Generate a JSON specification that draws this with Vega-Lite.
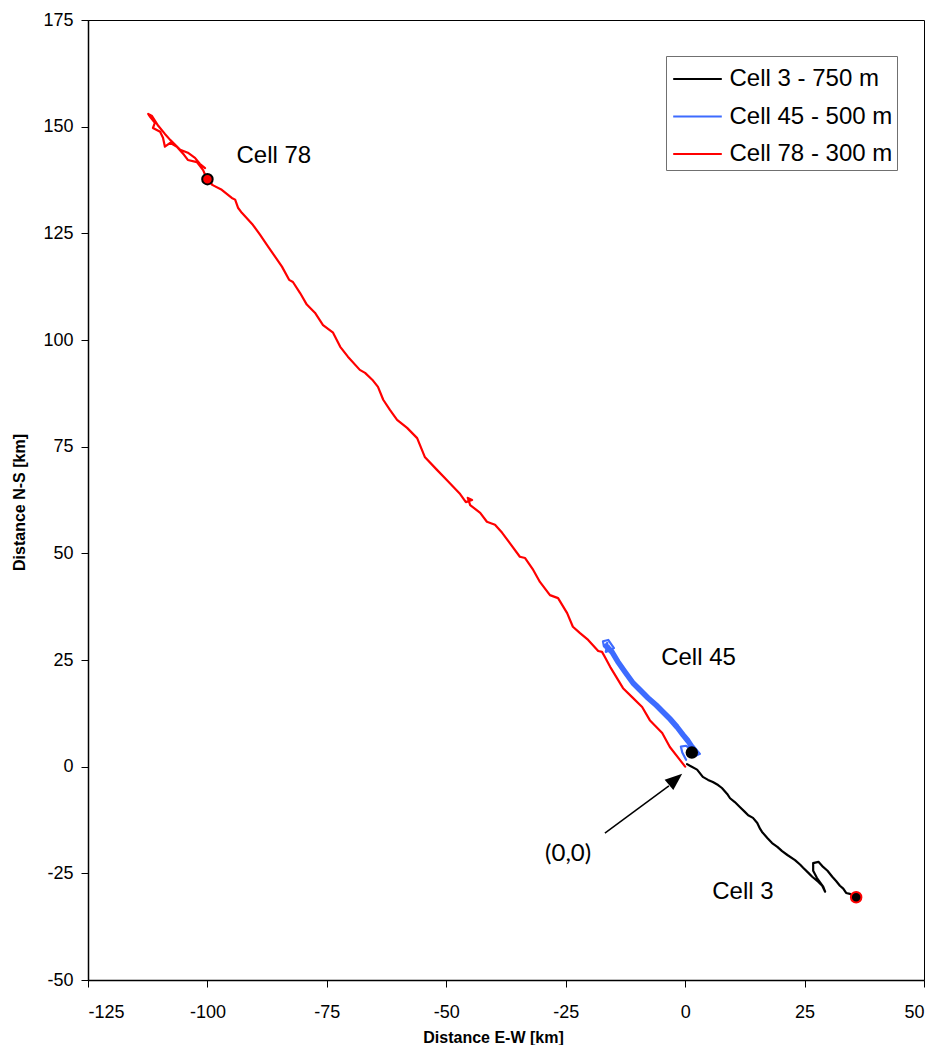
{
  "$schema": "https://vega.github.io/schema/vega-lite/v6.json",
  "width": 836,
  "height": 960,
  "autosize": "none",
  "padding": {"left": 88, "top": 20, "right": 13, "bottom": 65},
  "background": "white",
  "config": {
    "font": "Liberation Sans",
    "view": {"stroke": "#000000", "strokeWidth": 1},
    "axis": {
      "grid": false,
      "domainColor": "#000000",
      "domainWidth": 1.5,
      "tickColor": "#000000",
      "tickWidth": 1,
      "tickSize": 7,
      "labelColor": "#000000",
      "labelFont": "Liberation Sans",
      "labelFontSize": 18,
      "labelExpr": "replace(datum.label, '\u2212', '-')",
      "titleColor": "#000000",
      "titleFont": "Liberation Sans",
      "titleFontSize": 16,
      "titleFontWeight": "bold"
    }
  },
  "datasets": {
    "tracks": [
      {"series": "Cell 3 - 750 m", "i": 1, "x": 0.4, "y": 0.6},
      {"series": "Cell 3 - 750 m", "i": 2, "x": 1.0, "y": 0.2},
      {"series": "Cell 3 - 750 m", "i": 3, "x": 2.5, "y": -0.7},
      {"series": "Cell 3 - 750 m", "i": 4, "x": 3.7, "y": -2.4},
      {"series": "Cell 3 - 750 m", "i": 5, "x": 4.8, "y": -3.1},
      {"series": "Cell 3 - 750 m", "i": 6, "x": 5.8, "y": -3.6},
      {"series": "Cell 3 - 750 m", "i": 7, "x": 6.9, "y": -4.3},
      {"series": "Cell 3 - 750 m", "i": 8, "x": 7.7, "y": -5.0},
      {"series": "Cell 3 - 750 m", "i": 9, "x": 8.8, "y": -6.4},
      {"series": "Cell 3 - 750 m", "i": 10, "x": 9.4, "y": -7.4},
      {"series": "Cell 3 - 750 m", "i": 11, "x": 10.4, "y": -8.3},
      {"series": "Cell 3 - 750 m", "i": 12, "x": 11.5, "y": -9.5},
      {"series": "Cell 3 - 750 m", "i": 13, "x": 12.5, "y": -10.6},
      {"series": "Cell 3 - 750 m", "i": 14, "x": 13.2, "y": -11.4},
      {"series": "Cell 3 - 750 m", "i": 15, "x": 14.2, "y": -12.0},
      {"series": "Cell 3 - 750 m", "i": 16, "x": 15.1, "y": -13.2},
      {"series": "Cell 3 - 750 m", "i": 17, "x": 15.7, "y": -14.6},
      {"series": "Cell 3 - 750 m", "i": 18, "x": 16.1, "y": -15.3},
      {"series": "Cell 3 - 750 m", "i": 19, "x": 17.2, "y": -16.7},
      {"series": "Cell 3 - 750 m", "i": 20, "x": 18.2, "y": -17.9},
      {"series": "Cell 3 - 750 m", "i": 21, "x": 19.3, "y": -18.8},
      {"series": "Cell 3 - 750 m", "i": 22, "x": 20.3, "y": -19.8},
      {"series": "Cell 3 - 750 m", "i": 23, "x": 21.4, "y": -20.7},
      {"series": "Cell 3 - 750 m", "i": 24, "x": 23.0, "y": -21.9},
      {"series": "Cell 3 - 750 m", "i": 25, "x": 24.1, "y": -23.0},
      {"series": "Cell 3 - 750 m", "i": 26, "x": 24.7, "y": -23.7},
      {"series": "Cell 3 - 750 m", "i": 27, "x": 25.8, "y": -24.9},
      {"series": "Cell 3 - 750 m", "i": 28, "x": 26.6, "y": -25.8},
      {"series": "Cell 3 - 750 m", "i": 29, "x": 27.9, "y": -27.0},
      {"series": "Cell 3 - 750 m", "i": 30, "x": 28.7, "y": -27.9},
      {"series": "Cell 3 - 750 m", "i": 31, "x": 29.3, "y": -29.3},
      {"series": "Cell 3 - 750 m", "i": 32, "x": 28.9, "y": -28.1},
      {"series": "Cell 3 - 750 m", "i": 33, "x": 27.6, "y": -26.1},
      {"series": "Cell 3 - 750 m", "i": 34, "x": 26.8, "y": -24.4},
      {"series": "Cell 3 - 750 m", "i": 35, "x": 26.8, "y": -22.6},
      {"series": "Cell 3 - 750 m", "i": 36, "x": 27.9, "y": -22.3},
      {"series": "Cell 3 - 750 m", "i": 37, "x": 28.7, "y": -23.3},
      {"series": "Cell 3 - 750 m", "i": 38, "x": 29.8, "y": -24.4},
      {"series": "Cell 3 - 750 m", "i": 39, "x": 30.8, "y": -25.8},
      {"series": "Cell 3 - 750 m", "i": 40, "x": 31.6, "y": -26.8},
      {"series": "Cell 3 - 750 m", "i": 41, "x": 32.4, "y": -27.9},
      {"series": "Cell 3 - 750 m", "i": 42, "x": 33.1, "y": -28.6},
      {"series": "Cell 3 - 750 m", "i": 43, "x": 33.7, "y": -29.6},
      {"series": "Cell 3 - 750 m", "i": 44, "x": 34.5, "y": -29.8},
      {"series": "Cell 3 - 750 m", "i": 45, "x": 35.2, "y": -30.3},
      {"series": "Cell 3 - 750 m", "i": 46, "x": 35.8, "y": -30.5},

      {"series": "Cell 45 - 500 m", "i": 1, "x": 0.2, "y": 1.6},
      {"series": "Cell 45 - 500 m", "i": 2, "x": -0.6, "y": 3.3},
      {"series": "Cell 45 - 500 m", "i": 3, "x": -0.9, "y": 4.7},
      {"series": "Cell 45 - 500 m", "i": 4, "x": 0.2, "y": 4.9},
      {"series": "Cell 45 - 500 m", "i": 5, "x": 2.03, "y": 3.17},
      {"series": "Cell 45 - 500 m", "i": 6, "x": 1.19, "y": 4.34},
      {"series": "Cell 45 - 500 m", "i": 7, "x": 0.36, "y": 5.74},
      {"series": "Cell 45 - 500 m", "i": 8, "x": -0.69, "y": 7.15},
      {"series": "Cell 45 - 500 m", "i": 9, "x": -1.95, "y": 9.02},
      {"series": "Cell 45 - 500 m", "i": 10, "x": -3.41, "y": 10.9},
      {"series": "Cell 45 - 500 m", "i": 11, "x": -4.88, "y": 12.54},
      {"series": "Cell 45 - 500 m", "i": 12, "x": -6.34, "y": 14.18},
      {"series": "Cell 45 - 500 m", "i": 13, "x": -8.02, "y": 15.82},
      {"series": "Cell 45 - 500 m", "i": 14, "x": -9.48, "y": 17.46},
      {"series": "Cell 45 - 500 m", "i": 15, "x": -11.16, "y": 19.33},
      {"series": "Cell 45 - 500 m", "i": 16, "x": -12.83, "y": 21.91},
      {"series": "Cell 45 - 500 m", "i": 17, "x": -14.3, "y": 24.26},
      {"series": "Cell 45 - 500 m", "i": 18, "x": -15.55, "y": 26.6},
      {"series": "Cell 45 - 500 m", "i": 19, "x": -17.02, "y": 28.24},
      {"series": "Cell 45 - 500 m", "i": 20, "x": -17.2, "y": 29.4},
      {"series": "Cell 45 - 500 m", "i": 21, "x": -16.1, "y": 29.7},
      {"series": "Cell 45 - 500 m", "i": 22, "x": -14.9, "y": 27.8},
      {"series": "Cell 45 - 500 m", "i": 23, "x": -16.6, "y": 26.9},
      {"series": "Cell 45 - 500 m", "i": 24, "x": -16.3, "y": 29.0},
      {"series": "Cell 45 - 500 m", "i": 25, "x": -16.52, "y": 28.8},
      {"series": "Cell 45 - 500 m", "i": 26, "x": -15.05, "y": 27.16},
      {"series": "Cell 45 - 500 m", "i": 27, "x": -13.8, "y": 24.82},
      {"series": "Cell 45 - 500 m", "i": 28, "x": -12.33, "y": 22.47},
      {"series": "Cell 45 - 500 m", "i": 29, "x": -10.66, "y": 19.89},
      {"series": "Cell 45 - 500 m", "i": 30, "x": -8.98, "y": 18.02},
      {"series": "Cell 45 - 500 m", "i": 31, "x": -7.52, "y": 16.38},
      {"series": "Cell 45 - 500 m", "i": 32, "x": -5.84, "y": 14.74},
      {"series": "Cell 45 - 500 m", "i": 33, "x": -4.38, "y": 13.1},
      {"series": "Cell 45 - 500 m", "i": 34, "x": -2.91, "y": 11.46},
      {"series": "Cell 45 - 500 m", "i": 35, "x": -1.45, "y": 9.58},
      {"series": "Cell 45 - 500 m", "i": 36, "x": -0.19, "y": 7.71},
      {"series": "Cell 45 - 500 m", "i": 37, "x": 0.86, "y": 6.3},
      {"series": "Cell 45 - 500 m", "i": 38, "x": 1.69, "y": 4.9},
      {"series": "Cell 45 - 500 m", "i": 39, "x": 2.53, "y": 3.73},
      {"series": "Cell 45 - 500 m", "i": 40, "x": 3.1, "y": 3.0},
      {"series": "Cell 45 - 500 m", "i": 41, "x": 2.3, "y": 2.6},
      {"series": "Cell 45 - 500 m", "i": 42, "x": 2.28, "y": 3.45},
      {"series": "Cell 45 - 500 m", "i": 43, "x": 1.44, "y": 4.62},
      {"series": "Cell 45 - 500 m", "i": 44, "x": 0.61, "y": 6.02},
      {"series": "Cell 45 - 500 m", "i": 45, "x": -0.44, "y": 7.43},
      {"series": "Cell 45 - 500 m", "i": 46, "x": -1.5, "y": 9.1},
      {"series": "Cell 45 - 500 m", "i": 47, "x": -3.16, "y": 11.18},
      {"series": "Cell 45 - 500 m", "i": 48, "x": -4.8, "y": 13.0},
      {"series": "Cell 45 - 500 m", "i": 49, "x": -6.09, "y": 14.46},
      {"series": "Cell 45 - 500 m", "i": 50, "x": -7.6, "y": 15.9},
      {"series": "Cell 45 - 500 m", "i": 51, "x": -9.23, "y": 17.74},
      {"series": "Cell 45 - 500 m", "i": 52, "x": -11.1, "y": 19.8},
      {"series": "Cell 45 - 500 m", "i": 53, "x": -12.58, "y": 22.19},
      {"series": "Cell 45 - 500 m", "i": 54, "x": -13.9, "y": 24.3},
      {"series": "Cell 45 - 500 m", "i": 55, "x": -15.3, "y": 26.88},
      {"series": "Cell 45 - 500 m", "i": 56, "x": -16.77, "y": 28.52},
      {"series": "Cell 45 - 500 m", "i": 57, "x": -16.0, "y": 28.4},

      {"series": "Cell 78 - 300 m", "i": 1, "x": 0.0, "y": 0.0},
      {"series": "Cell 78 - 300 m", "i": 2, "x": -1.1, "y": 1.6},
      {"series": "Cell 78 - 300 m", "i": 3, "x": -3.2, "y": 4.6},
      {"series": "Cell 78 - 300 m", "i": 4, "x": -4.8, "y": 7.9},
      {"series": "Cell 78 - 300 m", "i": 5, "x": -7.4, "y": 10.9},
      {"series": "Cell 78 - 300 m", "i": 6, "x": -9.0, "y": 14.0},
      {"series": "Cell 78 - 300 m", "i": 7, "x": -11.1, "y": 16.3},
      {"series": "Cell 78 - 300 m", "i": 8, "x": -13.0, "y": 18.4},
      {"series": "Cell 78 - 300 m", "i": 9, "x": -14.3, "y": 20.8},
      {"series": "Cell 78 - 300 m", "i": 10, "x": -15.7, "y": 23.4},
      {"series": "Cell 78 - 300 m", "i": 11, "x": -16.8, "y": 25.7},
      {"series": "Cell 78 - 300 m", "i": 12, "x": -17.4, "y": 26.9},
      {"series": "Cell 78 - 300 m", "i": 13, "x": -18.2, "y": 27.1},
      {"series": "Cell 78 - 300 m", "i": 14, "x": -20.3, "y": 29.7},
      {"series": "Cell 78 - 300 m", "i": 15, "x": -22.0, "y": 31.3},
      {"series": "Cell 78 - 300 m", "i": 16, "x": -23.5, "y": 32.8},
      {"series": "Cell 78 - 300 m", "i": 17, "x": -24.7, "y": 36.0},
      {"series": "Cell 78 - 300 m", "i": 18, "x": -26.6, "y": 39.5},
      {"series": "Cell 78 - 300 m", "i": 19, "x": -28.3, "y": 40.2},
      {"series": "Cell 78 - 300 m", "i": 20, "x": -30.4, "y": 43.3},
      {"series": "Cell 78 - 300 m", "i": 21, "x": -31.8, "y": 46.1},
      {"series": "Cell 78 - 300 m", "i": 22, "x": -33.5, "y": 48.9},
      {"series": "Cell 78 - 300 m", "i": 23, "x": -34.6, "y": 49.2},
      {"series": "Cell 78 - 300 m", "i": 24, "x": -36.7, "y": 52.4},
      {"series": "Cell 78 - 300 m", "i": 25, "x": -38.3, "y": 54.8},
      {"series": "Cell 78 - 300 m", "i": 26, "x": -39.8, "y": 56.7},
      {"series": "Cell 78 - 300 m", "i": 27, "x": -41.5, "y": 57.4},
      {"series": "Cell 78 - 300 m", "i": 28, "x": -42.9, "y": 59.5},
      {"series": "Cell 78 - 300 m", "i": 29, "x": -45.0, "y": 61.3},
      {"series": "Cell 78 - 300 m", "i": 30, "x": -45.5, "y": 63.0},
      {"series": "Cell 78 - 300 m", "i": 31, "x": -44.6, "y": 62.5},
      {"series": "Cell 78 - 300 m", "i": 32, "x": -45.9, "y": 62.0},
      {"series": "Cell 78 - 300 m", "i": 33, "x": -47.1, "y": 63.9},
      {"series": "Cell 78 - 300 m", "i": 34, "x": -49.9, "y": 67.2},
      {"series": "Cell 78 - 300 m", "i": 35, "x": -51.9, "y": 69.5},
      {"series": "Cell 78 - 300 m", "i": 36, "x": -54.5, "y": 72.6},
      {"series": "Cell 78 - 300 m", "i": 37, "x": -56.1, "y": 77.0},
      {"series": "Cell 78 - 300 m", "i": 38, "x": -58.2, "y": 79.4},
      {"series": "Cell 78 - 300 m", "i": 39, "x": -60.3, "y": 81.3},
      {"series": "Cell 78 - 300 m", "i": 40, "x": -61.8, "y": 83.6},
      {"series": "Cell 78 - 300 m", "i": 41, "x": -63.2, "y": 86.0},
      {"series": "Cell 78 - 300 m", "i": 42, "x": -64.3, "y": 89.0},
      {"series": "Cell 78 - 300 m", "i": 43, "x": -65.5, "y": 90.7},
      {"series": "Cell 78 - 300 m", "i": 44, "x": -67.0, "y": 92.3},
      {"series": "Cell 78 - 300 m", "i": 45, "x": -68.1, "y": 93.0},
      {"series": "Cell 78 - 300 m", "i": 46, "x": -70.6, "y": 96.1},
      {"series": "Cell 78 - 300 m", "i": 47, "x": -72.2, "y": 98.4},
      {"series": "Cell 78 - 300 m", "i": 48, "x": -73.7, "y": 101.7},
      {"series": "Cell 78 - 300 m", "i": 49, "x": -75.8, "y": 103.5},
      {"series": "Cell 78 - 300 m", "i": 50, "x": -77.5, "y": 106.4},
      {"series": "Cell 78 - 300 m", "i": 51, "x": -79.2, "y": 108.3},
      {"series": "Cell 78 - 300 m", "i": 52, "x": -80.6, "y": 111.0},
      {"series": "Cell 78 - 300 m", "i": 53, "x": -82.1, "y": 113.6},
      {"series": "Cell 78 - 300 m", "i": 54, "x": -82.9, "y": 114.1},
      {"series": "Cell 78 - 300 m", "i": 55, "x": -84.4, "y": 117.2},
      {"series": "Cell 78 - 300 m", "i": 56, "x": -87.3, "y": 121.9},
      {"series": "Cell 78 - 300 m", "i": 57, "x": -89.0, "y": 124.7},
      {"series": "Cell 78 - 300 m", "i": 58, "x": -90.5, "y": 127.0},
      {"series": "Cell 78 - 300 m", "i": 59, "x": -92.8, "y": 129.8},
      {"series": "Cell 78 - 300 m", "i": 60, "x": -93.6, "y": 131.0},
      {"series": "Cell 78 - 300 m", "i": 61, "x": -94.2, "y": 132.9},
      {"series": "Cell 78 - 300 m", "i": 62, "x": -94.9, "y": 133.3},
      {"series": "Cell 78 - 300 m", "i": 63, "x": -97.0, "y": 135.2},
      {"series": "Cell 78 - 300 m", "i": 64, "x": -98.9, "y": 136.3},
      {"series": "Cell 78 - 300 m", "i": 65, "x": -100.1, "y": 137.7},
      {"series": "Cell 78 - 300 m", "i": 66, "x": -100.9, "y": 139.8},
      {"series": "Cell 78 - 300 m", "i": 67, "x": -102.2, "y": 141.7},
      {"series": "Cell 78 - 300 m", "i": 68, "x": -104.1, "y": 142.2},
      {"series": "Cell 78 - 300 m", "i": 69, "x": -104.9, "y": 143.4},
      {"series": "Cell 78 - 300 m", "i": 70, "x": -106.4, "y": 145.3},
      {"series": "Cell 78 - 300 m", "i": 71, "x": -107.8, "y": 146.2},
      {"series": "Cell 78 - 300 m", "i": 72, "x": -108.9, "y": 145.3},
      {"series": "Cell 78 - 300 m", "i": 73, "x": -109.3, "y": 147.4},
      {"series": "Cell 78 - 300 m", "i": 74, "x": -109.9, "y": 148.8},
      {"series": "Cell 78 - 300 m", "i": 75, "x": -111.4, "y": 149.7},
      {"series": "Cell 78 - 300 m", "i": 76, "x": -111.0, "y": 150.9},
      {"series": "Cell 78 - 300 m", "i": 77, "x": -112.0, "y": 152.3},
      {"series": "Cell 78 - 300 m", "i": 78, "x": -112.4, "y": 153.0},
      {"series": "Cell 78 - 300 m", "i": 79, "x": -111.6, "y": 152.5},
      {"series": "Cell 78 - 300 m", "i": 80, "x": -110.3, "y": 150.2},
      {"series": "Cell 78 - 300 m", "i": 81, "x": -108.9, "y": 148.3},
      {"series": "Cell 78 - 300 m", "i": 82, "x": -107.8, "y": 146.9},
      {"series": "Cell 78 - 300 m", "i": 83, "x": -105.7, "y": 144.6},
      {"series": "Cell 78 - 300 m", "i": 84, "x": -104.1, "y": 143.9},
      {"series": "Cell 78 - 300 m", "i": 85, "x": -102.6, "y": 142.7},
      {"series": "Cell 78 - 300 m", "i": 86, "x": -101.6, "y": 141.3},
      {"series": "Cell 78 - 300 m", "i": 87, "x": -100.5, "y": 140.3}
    ],
    "sites": [
      {"site": "Cell 3", "x": 35.8, "y": -30.6},
      {"site": "Cell 45", "x": 1.4, "y": 3.3},
      {"site": "Cell 78", "x": -100.0, "y": 137.7}
    ],
    "siteLabels": [
      {"text": "Cell 78", "x": -86.1, "y": 141.6},
      {"text": "Cell 45", "x": 2.8, "y": 23.8},
      {"text": "Cell 3", "x": 12.1, "y": -31.1}
    ],
    "originArrow": [
      {"x": -16.8, "y": -15.6, "x2": -3.4, "y2": -4.5, "hx": -2.0, "hy": -2.95, "label": "(0,0)", "lx": -24.5, "ly": -22.1}
    ]
  },
  "layer": [
    {
      "data": {"name": "tracks"},
      "mark": {"type": "line", "strokeWidth": 2.2, "strokeJoin": "round", "strokeCap": "round"},
      "encoding": {
        "x": {
          "field": "x",
          "type": "quantitative",
          "scale": {"domain": [-125, 50], "nice": false, "zero": false},
          "axis": {
            "values": [-125, -100, -75, -50, -25, 0, 25, 50],
            "labelPadding": 16,
            "title": "Distance E-W [km]",
            "titleX": 405,
            "titleY": 62,
            "titleBaseline": "alphabetic"
          }
        },
        "y": {
          "field": "y",
          "type": "quantitative",
          "scale": {"domain": [-50, 175], "nice": false, "zero": false},
          "axis": {
            "values": [-50, -25, 0, 25, 50, 75, 100, 125, 150, 175],
            "labelPadding": 8,
            "title": "Distance N-S [km]",
            "titleX": -69,
            "titleY": 482,
            "titleAngle": -90,
            "titleAlign": "center",
            "titleBaseline": "middle"
          }
        },
        "color": {
          "field": "series",
          "type": "nominal",
          "scale": {
            "domain": ["Cell 3 - 750 m", "Cell 45 - 500 m", "Cell 78 - 300 m"],
            "range": ["#000000", "#3d6bff", "#ff0000"]
          },
          "legend": {
            "title": null,
            "orient": "none",
            "legendX": 578,
            "legendY": 36,
            "strokeColor": "#707070",
            "fillColor": "#ffffff",
            "padding": 4,
            "rowPadding": 6.5,
            "symbolType": "M-1.35,0H1.35",
            "symbolSize": 1296,
            "symbolStrokeWidth": 2,
            "symbolOffset": 8.5,
            "labelFont": "Liberation Sans",
            "labelFontSize": 24,
            "labelColor": "#000000",
            "labelOffset": 13,
            "labelLimit": 400
          }
        },
        "order": {"field": "i", "type": "quantitative"}
      }
    },
    {
      "data": {"name": "originArrow"},
      "mark": {"type": "rule", "color": "#000000", "strokeWidth": 1.5},
      "encoding": {
        "x": {"field": "x", "type": "quantitative"},
        "y": {"field": "y", "type": "quantitative"},
        "x2": {"field": "x2"},
        "y2": {"field": "y2"}
      }
    },
    {
      "data": {"name": "originArrow"},
      "mark": {"type": "point", "shape": "M0,-1.15L0.9,1.15L-0.9,1.15Z", "filled": true, "color": "#000000", "opacity": 1, "size": 225, "angle": 50},
      "encoding": {
        "x": {"field": "hx", "type": "quantitative"},
        "y": {"field": "hy", "type": "quantitative"}
      }
    },
    {
      "data": {"name": "originArrow"},
      "mark": {"type": "text", "font": "Lato", "fontSize": 24, "align": "center", "baseline": "alphabetic", "color": "#000000"},
      "encoding": {
        "x": {"field": "lx", "type": "quantitative"},
        "y": {"field": "ly", "type": "quantitative"},
        "text": {"field": "label"}
      }
    },
    {
      "data": {"name": "sites"},
      "mark": {"type": "point", "shape": "circle", "filled": true, "opacity": 1, "size": 110, "strokeWidth": 2},
      "encoding": {
        "x": {"field": "x", "type": "quantitative"},
        "y": {"field": "y", "type": "quantitative"},
        "fill": {
          "field": "site",
          "type": "nominal",
          "scale": {"domain": ["Cell 3", "Cell 45", "Cell 78"], "range": ["#000000", "#000000", "#ff0000"]},
          "legend": null
        },
        "stroke": {
          "field": "site",
          "type": "nominal",
          "scale": {"domain": ["Cell 3", "Cell 45", "Cell 78"], "range": ["#ff0000", "#000000", "#000000"]},
          "legend": null
        }
      }
    },
    {
      "data": {"name": "siteLabels"},
      "mark": {"type": "text", "font": "Liberation Sans", "fontSize": 24, "align": "center", "baseline": "alphabetic", "color": "#000000"},
      "encoding": {
        "x": {"field": "x", "type": "quantitative"},
        "y": {"field": "y", "type": "quantitative"},
        "text": {"field": "text"}
      }
    }
  ]
}
